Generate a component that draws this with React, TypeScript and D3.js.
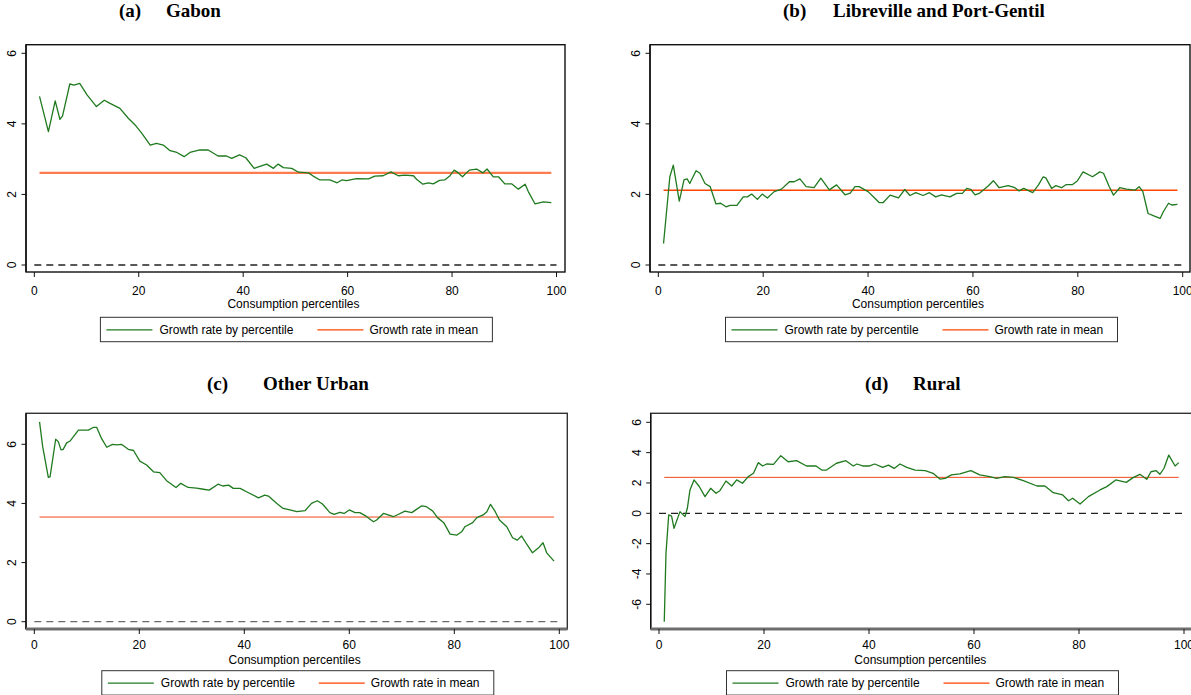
import React from 'react';
import * as d3 from 'd3';

// axis ticks and labels
const xTicks = [0, 20, 40, 60, 80, 100];
const posTicks = [0, 2, 4, 6];
const ruralTicks = [-6, -4, -2, 0, 2, 4, 6];
const legendLabels = ['Growth rate by percentile', 'Growth rate in mean'];
const xTitle = 'Consumption percentiles';

// growth incidence curves: [percentile, growth rate]
const gabonGrowth: [number, number][] = [
  [1, 4.78], [2.7, 3.78], [4, 4.65], [4.9, 4.13], [5.4, 4.22], [6.8, 5.13], [7.6, 5.1], [8.7, 5.15],
  [10.1, 4.82], [11.9, 4.49], [13.4, 4.67], [14.5, 4.58], [16.4, 4.44], [18, 4.16], [19.3, 3.97],
  [20.6, 3.73], [22.2, 3.4], [23.4, 3.45], [24.7, 3.4], [26, 3.24], [27.3, 3.19], [28.7, 3.07],
  [29.8, 3.19], [31.7, 3.26], [33.3, 3.26], [35.2, 3.09], [36.8, 3.09], [37.8, 3.02], [39.3, 3.12],
  [40.5, 3.04], [42.1, 2.74], [42.9, 2.78], [44.5, 2.86], [45.8, 2.74], [46.7, 2.86], [47.7, 2.76],
  [49.3, 2.74], [50.6, 2.63], [52.5, 2.61], [53.4, 2.52], [54.7, 2.41], [56.6, 2.41], [58, 2.33],
  [58.9, 2.41], [59.8, 2.39], [61.7, 2.45], [64, 2.44], [65.2, 2.52], [66.8, 2.53], [68.3, 2.64],
  [69.7, 2.53], [71, 2.55], [72.6, 2.53], [73.2, 2.43], [74.4, 2.29], [75.5, 2.33], [76.4, 2.3],
  [77.6, 2.4], [78.6, 2.41], [79.6, 2.53], [80.4, 2.69], [81.2, 2.61], [82, 2.5], [83.3, 2.69],
  [84.7, 2.72], [85.9, 2.61], [86.7, 2.72], [87.9, 2.5], [88.9, 2.5], [90.1, 2.3], [91.4, 2.3],
  [92.7, 2.15], [94, 2.29], [94.6, 2.08], [95.9, 1.73], [97.5, 1.79], [99, 1.77],
];
const gabonMean = 2.61;

const librevilleGrowth: [number, number][] = [
  [1, 0.61], [2.2, 2.5], [2.86, 2.83], [4, 1.81], [4.9, 2.41], [5.5, 2.44], [6, 2.31], [7.2, 2.67],
  [7.95, 2.6], [8.9, 2.31], [9.9, 2.22], [11, 1.73], [11.9, 1.75], [12.9, 1.65], [13.7, 1.69],
  [15, 1.69], [16.2, 1.93], [17, 1.93], [17.8, 2.01], [18.9, 1.86], [19.8, 2.01], [20.8, 1.9],
  [22.1, 2.08], [23.5, 2.15], [25, 2.36], [25.9, 2.36], [27, 2.44], [28.2, 2.22], [29.7, 2.19],
  [31, 2.46], [32.6, 2.13], [34, 2.27], [35.6, 1.99], [36.6, 2.04], [37.5, 2.22], [38.3, 2.22],
  [40, 2.08], [41.3, 1.89], [42.1, 1.77], [42.9, 1.77], [44.2, 1.98], [45.8, 1.9], [47, 2.14],
  [48, 1.97], [49.1, 2.05], [50.5, 1.97], [51.7, 2.05], [52.9, 1.93], [54, 1.99], [55.6, 1.93],
  [56.9, 2.03], [58, 2.03], [58.8, 2.17], [59.6, 2.14], [60.4, 1.99], [61.3, 2.04], [62.9, 2.24],
  [63.9, 2.39], [65, 2.19], [66.7, 2.25], [68, 2.19], [68.8, 2.1], [69.7, 2.17], [71.4, 2.05],
  [72.5, 2.27], [73.4, 2.5], [73.9, 2.47], [75, 2.17], [75.8, 2.25], [76.9, 2.19], [77.8, 2.28],
  [79, 2.28], [79.9, 2.38], [81, 2.64], [82.8, 2.5], [84.2, 2.64], [84.9, 2.6], [86, 2.22],
  [86.8, 1.98], [88, 2.19], [89.3, 2.15], [90.9, 2.12], [91.7, 2.22], [92.4, 2.08], [93.4, 1.46],
  [94.5, 1.39], [95.7, 1.32], [96.3, 1.51], [97.3, 1.75], [97.9, 1.7], [99, 1.72],
];
const librevilleMean = 2.12;

const otherUrbanGrowth: [number, number][] = [
  [1, 6.76], [1.6, 5.92], [2.67, 4.88], [3, 4.9], [4.07, 6.17], [4.57, 6.09], [5.09, 5.81], [5.5, 5.83],
  [6.17, 6.05], [6.8, 6.11], [8.4, 6.48], [10.3, 6.48], [11.2, 6.57], [11.9, 6.57], [12.8, 6.2],
  [13.8, 5.9], [14.9, 6.0], [15.7, 5.98], [16.6, 6.0], [17.9, 5.83], [18.9, 5.79], [20.1, 5.43],
  [21.4, 5.3], [22.7, 5.07], [23.9, 5.04], [25.2, 4.77], [27, 4.54], [27.9, 4.68], [29.3, 4.54],
  [30.9, 4.52], [32.2, 4.48], [33.3, 4.45], [35, 4.65], [35.9, 4.59], [37, 4.62], [37.9, 4.51],
  [39.2, 4.51], [40.8, 4.36], [42.7, 4.19], [43.9, 4.28], [44.6, 4.25], [46.2, 4.0], [47.4, 3.83],
  [48.7, 3.78], [50, 3.72], [51.6, 3.76], [52.8, 4.0], [53.9, 4.09], [54.9, 3.98], [56.3, 3.69],
  [57.1, 3.63], [58.2, 3.7], [59, 3.66], [60, 3.78], [61.1, 3.69], [62, 3.69], [63.2, 3.57],
  [64.6, 3.38], [65.2, 3.44], [66.5, 3.66], [67.4, 3.61], [68.4, 3.55], [69.1, 3.61], [70.6, 3.74],
  [71.9, 3.69], [72.8, 3.8], [73.8, 3.92], [74.7, 3.89], [75.9, 3.74], [76.8, 3.52], [78, 3.35],
  [79.2, 2.96], [80.5, 2.93], [81.4, 3.04], [82, 3.21], [83.5, 3.35], [84.3, 3.52], [85.5, 3.61],
  [86.2, 3.72], [86.9, 3.97], [87.8, 3.72], [88.6, 3.44], [90, 3.21], [91.1, 2.84], [92, 2.76],
  [92.8, 2.9], [93.8, 2.62], [94.9, 2.33], [96, 2.49], [96.9, 2.67], [97.6, 2.33], [99, 2.05],
];
const otherUrbanMean = 3.54;

const ruralGrowth: [number, number][] = [
  [1, -7.15], [1.33, -2.64], [1.85, -0.11], [2.4, -0.18], [2.86, -0.99], [4, 0.11], [4.95, -0.22],
  [5.4, 0.33], [5.9, 1.54], [6.67, 2.2], [7.7, 1.75], [8.76, 1.1], [9.84, 1.65], [10.86, 1.32],
  [11.6, 1.49], [12.76, 2.13], [13.85, 1.8], [14.8, 2.2], [15.9, 1.98], [17, 2.42], [18, 2.64],
  [18.9, 3.34], [19.75, 3.12], [20.5, 3.25], [21.8, 3.23], [23.2, 3.8], [24.6, 3.4], [26.2, 3.47],
  [28.1, 3.12], [29.9, 3.12], [31, 2.85], [31.9, 2.85], [33.8, 3.3], [35.6, 3.47], [37, 3.12],
  [37.7, 3.25], [38.8, 3.12], [40.1, 3.12], [41.1, 3.25], [42.6, 3.03], [43.7, 3.18], [44.8, 2.96],
  [45.9, 3.25], [47.2, 3.03], [48.8, 2.85], [50.7, 2.81], [52.2, 2.64], [53.5, 2.26], [54.5, 2.3],
  [55.7, 2.53], [57.3, 2.6], [59.4, 2.81], [61.1, 2.53], [63, 2.42], [64.3, 2.3], [65.9, 2.42],
  [67.5, 2.37], [69.4, 2.15], [72, 1.8], [73.5, 1.8], [75.1, 1.36], [76.9, 1.21], [78, 0.83],
  [78.8, 0.99], [80.2, 0.61], [81.8, 1.1], [84, 1.54], [85.3, 1.76], [87, 2.2], [89, 2.04],
  [90.3, 2.35], [91.6, 2.57], [92.9, 2.24], [93.7, 2.74], [94.7, 2.81], [95.4, 2.57], [96.2, 2.97],
  [97.1, 3.84], [98.3, 3.12], [99, 3.34],
];
const ruralMean = 2.37;

const GREEN = '#1f7a1f';
const SANS = '"Liberation Sans", Arial, sans-serif';
const SERIF = '"Liberation Serif", "Times New Roman", serif';

const panels = [
  {
    letter: '(a)', name: 'Gabon', data: gabonGrowth, mean: gabonMean, yTicks: posTicks,
    frame: { l: 26, r: 565, t: 44.7, b: 272 }, xPx: [34.3, 556.5], yDom: [0, 6], yPx: [265, 53.3],
    titleX: [119, 166], titleY: 17, meanColor: '#ff7a4d', meanWidth: 2.2, zeroColor: '#222',
    grayBottom: false, tickLabelY: 294.5, axisTitleY: 307.5, legendTop: 317.3,
  },
  {
    letter: '(b)', name: 'Libreville and Port-Gentil', data: librevilleGrowth, mean: librevilleMean, yTicks: posTicks,
    frame: { l: 650, r: 1190, t: 44.7, b: 272 }, xPx: [658.3, 1182.7], yDom: [0, 6], yPx: [265, 53.3],
    titleX: [783, 833], titleY: 17, meanColor: '#ff4500', meanWidth: 1.6, zeroColor: '#222',
    grayBottom: false, tickLabelY: 294.5, axisTitleY: 307.5, legendTop: 317.3,
  },
  {
    letter: '(c)', name: 'Other Urban', data: otherUrbanGrowth, mean: otherUrbanMean, yTicks: posTicks,
    frame: { l: 26, r: 567.3, t: 413.3, b: 629 }, xPx: [34.3, 559.3], yDom: [0, 6], yPx: [621.7, 444.3],
    titleX: [207, 263], titleY: 390, meanColor: '#f0481a', meanWidth: 1, zeroColor: '#6b6b6b',
    grayBottom: true, tickLabelY: 649, axisTitleY: 663.5, legendTop: 670.7,
  },
  {
    letter: '(d)', name: 'Rural', data: ruralGrowth, mean: ruralMean, yTicks: ruralTicks,
    frame: { l: 650.7, r: 1194, t: 413.3, b: 629 }, xPx: [659, 1184], yDom: [-6, 6], yPx: [604.3, 422.3],
    titleX: [865, 913], titleY: 390, meanColor: '#f0481a', meanWidth: 1, zeroColor: '#222',
    grayBottom: true, tickLabelY: 649, axisTitleY: 663.5, legendTop: 670.7,
  },
];

type PanelCfg = (typeof panels)[number];

const Panel = ({ p }: { p: PanelCfg }) => {
  const x = d3.scaleLinear().domain([0, 100]).range(p.xPx);
  const y = d3.scaleLinear().domain(p.yDom).range(p.yPx);
  const line = d3.line<[number, number]>().x(d => x(d[0])).y(d => y(d[1]));
  const first = p.data[0][0];
  const last = p.data[p.data.length - 1][0];
  const f = p.frame;
  const cx = (f.l + f.r) / 2;
  const legW = 392;
  const legL = (p.xPx[0] + p.xPx[1]) / 2 - legW / 2 + 1;

  return (
    <g>
      {/* title */}
      <text x={p.titleX[0]} y={p.titleY} fontFamily={SERIF} fontWeight="bold" fontSize={19}>{p.letter}</text>
      <text x={p.titleX[1]} y={p.titleY} fontFamily={SERIF} fontWeight="bold" fontSize={19}>{p.name}</text>

      {/* zero reference */}
      <line x1={x(0)} x2={x(100)} y1={y(0)} y2={y(0)} stroke={p.zeroColor} strokeWidth={1.3} strokeDasharray="7,5" />
      {/* mean growth */}
      <line x1={x(first)} x2={x(last)} y1={y(p.mean)} y2={y(p.mean)} stroke={p.meanColor} strokeWidth={p.meanWidth} />
      {/* growth by percentile */}
      <path d={line(p.data) || ''} fill="none" stroke={GREEN} strokeWidth={1.3} strokeLinejoin="round" />

      {/* frame */}
      <rect x={f.l} y={f.t} width={f.r - f.l} height={f.b - f.t} fill="none" stroke={p.grayBottom ? '#333' : '#111'} strokeWidth={1.4} />
      <line x1={f.l} x2={f.l} y1={f.t} y2={f.b} stroke="#111" strokeWidth={1.4} />
      {p.grayBottom && <line x1={f.l} x2={f.r} y1={f.b} y2={f.b} stroke="#6e6e6e" strokeWidth={3} />}

      {/* y axis */}
      {p.yTicks.map(t => (
        <g key={`y${t}`}>
          <line x1={f.l - 4.5} x2={f.l} y1={y(t)} y2={y(t)} stroke="#111" strokeWidth={1} />
          <text transform={`translate(${f.l - 10},${y(t)}) rotate(-90)`} textAnchor="middle" fontFamily={SANS} fontSize={12}>{t}</text>
        </g>
      ))}

      {/* x axis */}
      {xTicks.map(t => (
        <g key={`x${t}`}>
          <line x1={x(t)} x2={x(t)} y1={f.b} y2={f.b + 5} stroke="#111" strokeWidth={1} />
          <text x={x(t)} y={p.tickLabelY} textAnchor="middle" fontFamily={SANS} fontSize={12}>{t}</text>
        </g>
      ))}
      <text x={cx - 2} y={p.axisTitleY} textAnchor="middle" fontFamily={SANS} fontSize={12}>{xTitle}</text>

      {/* legend */}
      <rect x={legL} y={p.legendTop} width={legW} height={24.4} fill="#fff" stroke="#333" strokeWidth={1} />
      <line x1={legL + 6} x2={legL + 52} y1={p.legendTop + 12.5} y2={p.legendTop + 12.5} stroke={GREEN} strokeWidth={1.2} />
      <text x={legL + 59} y={p.legendTop + 16.5} fontFamily={SANS} fontSize={12}>{legendLabels[0]}</text>
      <line x1={legL + 217} x2={legL + 263} y1={p.legendTop + 12.5} y2={p.legendTop + 12.5} stroke="#ff4500" strokeWidth={1.2} />
      <text x={legL + 269} y={p.legendTop + 16.5} fontFamily={SANS} fontSize={12}>{legendLabels[1]}</text>
    </g>
  );
};

export default function App() {
  return (
    <svg width={1191} height={695} style={{ position: 'absolute', left: 0, top: 0, background: '#fff' }}>
      {panels.map(p => <Panel key={p.letter} p={p} />)}
    </svg>
  );
}
